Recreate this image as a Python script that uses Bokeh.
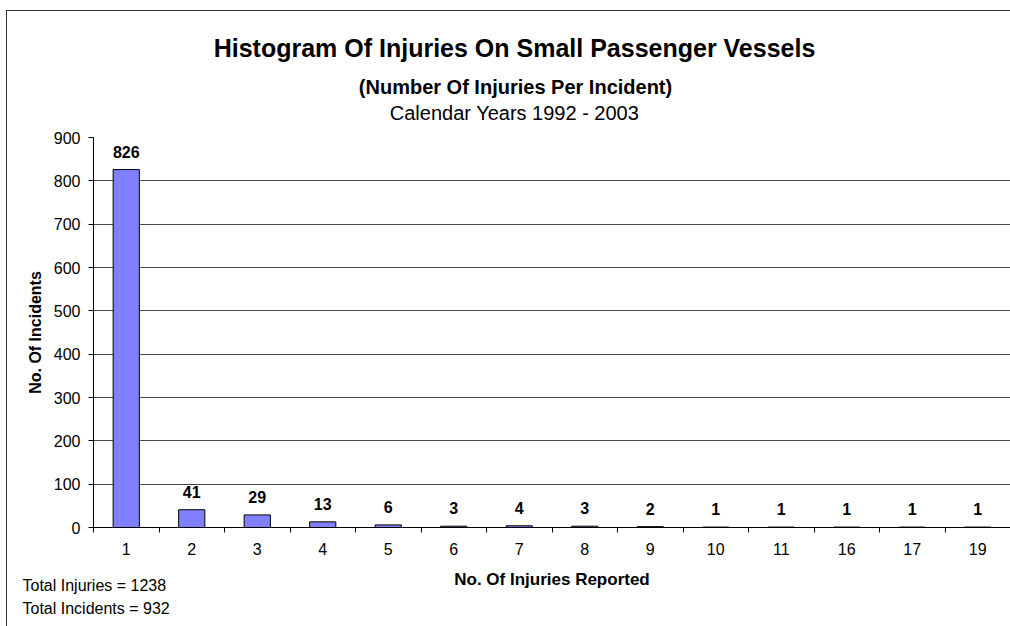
import numpy as np
from bokeh.plotting import figure
from bokeh.models import Range1d, FixedTicker, Label, ColumnDataSource
from bokeh.core.properties import value
from bokeh.embed import file_html
from bokeh.resources import INLINE

# ---- data ----
categories = ["1", "2", "3", "4", "5", "6", "7", "8", "9", "10", "11", "16", "17", "19"]
incidents = [826, 41, 29, 13, 6, 3, 4, 3, 2, 1, 1, 1, 1, 1]
y_ticks = [0, 100, 200, 300, 400, 500, 600, 700, 800, 900]
title_text = "Histogram Of Injuries On Small Passenger Vessels"
subtitle_text = "(Number Of Injuries Per Incident)"
years_text = "Calendar Years 1992 - 2003"
notes = ["Total Injuries = 1238", "Total Incidents = 932"]

FONT = "Liberation Sans"

n = len(categories)
centers = [i + 0.5 for i in range(n)]
src = ColumnDataSource(dict(x=centers, top=incidents, lbl=[str(v) for v in incidents]))

border_css = """
:host { position: relative; }
:host::after {
  content: "";
  position: absolute;
  left: 6px; top: 10px;
  width: 1004px; height: 616px;
  border-left: 1.5px solid #333333;
  border-top: 1.5px solid #333333;
  pointer-events: none;
  box-sizing: border-box;
}
"""

p = figure(width=1010, height=626, output_backend="svg", toolbar_location=None,
           x_range=Range1d(0, n), y_range=Range1d(0, 900),
           min_border_left=93, min_border_right=0, min_border_top=137, min_border_bottom=99,
           stylesheets=[border_css])
p.background_fill_color = "white"
p.border_fill_color = "white"
p.outline_line_color = None
p.title.visible = False

p.vbar(x="x", top="top", width=0.4, source=src, fill_color="#8080FF", line_color="black", line_width=1)
p.text(x="x", y="top", text="lbl", source=src, y_offset=-18, text_align="center",
       text_baseline="alphabetic", text_font=value(FONT), text_font_style="bold",
       text_font_size="16px", text_color="black")

# x axis: labels at centers, ticks at category boundaries
xa = p.xaxis[0]
xa.ticker = FixedTicker(ticks=centers, minor_ticks=list(range(n + 1)))
xa.major_label_overrides = {c: lab for c, lab in zip(centers, categories)}
xa.major_tick_line_color = None
xa.major_tick_out = 5
xa.major_tick_in = 0
xa.minor_tick_out = 5
xa.minor_tick_in = 0
xa.minor_tick_line_color = "black"
xa.axis_line_color = "black"
xa.major_label_standoff = 10
xa.major_label_text_font = FONT
xa.major_label_text_font_size = "16px"
xa.major_label_text_color = "black"
xa.axis_label = "No. Of Injuries Reported"
xa.axis_label_text_font = FONT
xa.axis_label_text_font_style = "bold"
xa.axis_label_text_font_size = "17px"
xa.axis_label_text_color = "black"
xa.axis_label_standoff = 12

ya = p.yaxis[0]
ya.ticker = FixedTicker(ticks=y_ticks, minor_ticks=[])
ya.major_tick_out = 5
ya.major_tick_in = 0
ya.major_tick_line_color = "black"
ya.axis_line_color = "black"
ya.major_label_standoff = 8
ya.major_label_text_font = FONT
ya.major_label_text_font_size = "16px"
ya.major_label_text_color = "black"
ya.axis_label = "No. Of Incidents"
ya.axis_label_text_font = FONT
ya.axis_label_text_font_style = "bold"
ya.axis_label_text_font_size = "16px"
ya.axis_label_text_color = "black"
ya.axis_label_standoff = 7

p.xgrid.grid_line_color = None
p.ygrid.grid_line_color = "#4a4a4a"
p.ygrid.grid_line_width = 1

# titles and notes (placed in a side panel so they are not clipped to the frame)
def add_text(x, y, t, size, style="normal", align="center"):
    p.add_layout(Label(x=x, y=y, x_units="canvas", y_units="canvas", text=t,
                       text_align=align, text_baseline="alphabetic", text_font=FONT,
                       text_font_style=style, text_font_size=size, text_color="black"), "above")

add_text(514, 47, title_text, "25px", "bold")
add_text(515, 86, subtitle_text, "20px", "bold")
add_text(514, 112, years_text, "20px")
for i, t in enumerate(notes):
    add_text(22, 585 + 23 * i, t, "16px", align="left")

open("out.html", "w").write(file_html(p, INLINE))
